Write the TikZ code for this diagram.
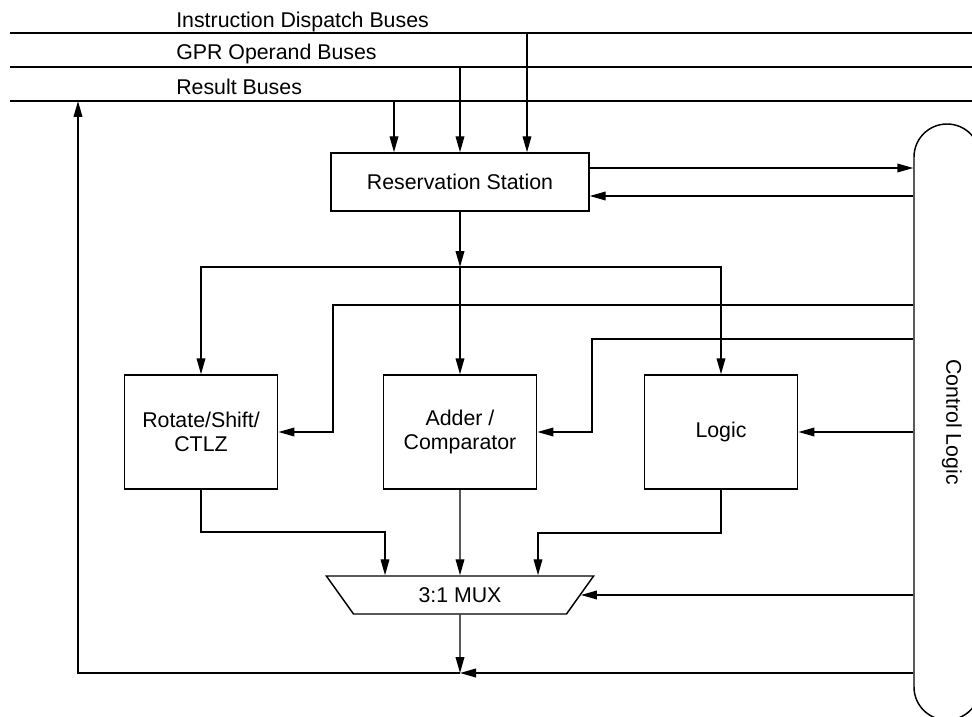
\documentclass[tikz,border=0pt]{standalone}
\usepackage{fontspec}
\setmainfont{Liberation Sans}
\usetikzlibrary{arrows.meta,shapes.geometric,positioning}
\tikzset{
  bloque/.style={draw,line width=1.1pt,minimum width=115pt,minimum height=85.5pt,align=center,font=\fontsize{16}{17.5}\selectfont},
  flecha/.style={-{Triangle[length=12pt,width=6.5pt]},line width=1.1pt},
  linea/.style={line width=1.1pt},
  rotulo/.style={font=\fontsize{16}{19}\selectfont,inner sep=0pt}
}

\begin{document}
\begin{tikzpicture}[x=0.75pt,y=-0.75pt]
\useasboundingbox (0,0) rectangle (972,717);
% buses
\coordinate (idb) at (10,33);
\coordinate (gpr) at (10,67);
\coordinate (res) at (10,101);
\draw[linea] (idb) -- (972,33);
\draw[linea] (gpr) -- (972,67);
\draw[linea] (res) -- (972,101);
\node[rotulo,anchor=base west] (lidb) at (176,28) {Instruction Dispatch Buses};
\node[rotulo,anchor=base west] (lgpr) at (176,60) {GPR Operand Buses};
\node[rotulo,anchor=base west] (lres) at (176,95) {Result Buses};
% bloques
\node[bloque,minimum width=193.5pt,minimum height=43.5pt] (rs) at (460,182) {Reservation Station};
\node[bloque] (rot) at (201,432) {Rotate/Shift/\\CTLZ};
\node[bloque] (add) at (460,432) {Adder /\\Comparator};
\node[bloque] (logic) at (721,432) {Logic};
\node[draw,line width=1.1pt,trapezium,trapezium stretches=true,shape border rotate=180,
      trapezium angle=64,minimum width=201.75pt,minimum height=28.5pt,
      font=\fontsize{16}{19}\selectfont] (mux) at (460,595) {3:1 MUX};
\node[draw,line width=1.1pt,rounded corners=24.75pt,minimum width=49.5pt,minimum height=447pt] (ctl) at (947,422) {};
\node[rotulo,rotate=-90] (lctl) at (952,422) {Control Logic};
% entradas a la estacion
\draw[flecha] (res -| 394,0) -- (rs.north -| 394,0);
\draw[flecha] (gpr -| 460,0) -- (rs.north -| 460,0);
\draw[flecha] (idb -| 527,0) -- (rs.north -| 527,0);
\draw[flecha] ([yshift=10.5pt]rs.east) -- ([yshift=10.5pt]rs.east -| ctl.west);
\draw[flecha] ([yshift=-10.5pt]rs.east -| ctl.west) -- ([yshift=-10.5pt]rs.east);
% reparto a las unidades
\coordinate (fork) at (460,267);
\draw[flecha] (rs.south) -- (fork);
\draw[flecha] (fork) -- (add.north);
\draw[flecha] (fork) -| (rot.north);
\draw[flecha] (fork) -| (logic.north);
% control
\draw[flecha] (ctl.west |- 0,305) -| (333,432) -- (rot.east);
\draw[flecha] (ctl.west |- 0,339) -| (592,432) -- (add.east);
\draw[flecha] (ctl.west |- logic.east) -- (logic.east);
\draw[flecha] (ctl.west |- mux.east) -- (mux.east);
% salidas al mux
\draw[flecha] (rot.south) |- (385,532) -- (385,0 |- mux.north);
\draw[flecha] (add.south) -- (mux.north);
\draw[flecha] (logic.south) |- (538,533) -- (538,0 |- mux.north);
% resultado
\coordinate (join) at (460,673);
\draw[flecha] (mux.south) -- (join);
\draw[flecha] (ctl.west |- join) -- (join);
\draw[flecha] (join) -| (res -| 78,0);
\end{tikzpicture}
\end{document}
